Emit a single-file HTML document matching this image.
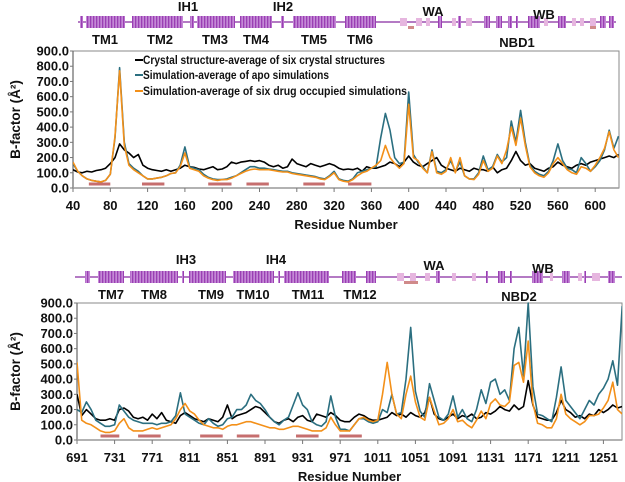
<!DOCTYPE html>
<html><head><meta charset="utf-8"><style>
html,body{margin:0;padding:0;background:#fff;}
svg{display:block;font-family:"Liberation Sans",sans-serif;font-weight:bold;}
</style></head><body>
<svg id="fig" width="625" height="482" viewBox="0 0 625 482">
<defs>
<pattern id="helixPat" width="3" height="12" patternUnits="userSpaceOnUse">
<rect width="3" height="12" fill="#c489d6"/><rect width="1.3" height="12" fill="#9a3fb3"/>
</pattern>
</defs>
</svg>
<script>
// ===== Top chart data (residues 40..625, step 5) =====
const topStart = 40;
const topStep = 5;
const topCrystal = [120,105,100,110,105,115,120,130,160,200,290,250,230,200,220,150,130,120,115,110,120,110,120,130,150,140,135,125,120,130,140,120,125,140,170,160,170,175,180,175,180,170,150,140,150,130,140,190,160,150,140,160,150,140,150,160,150,130,120,125,120,130,110,140,130,130,140,150,170,160,140,170,210,170,150,140,160,180,200,150,130,120,110,130,120,110,130,120,120,110,140,100,120,130,180,240,180,150,160,130,120,110,130,140,170,150,140,130,150,160,150,170,180,190,200,210,200,220];
const topApo = [160,110,80,60,50,45,40,50,90,330,790,300,160,130,110,80,60,60,65,70,80,95,100,150,270,140,130,120,90,70,60,55,55,60,70,80,100,120,140,140,130,130,125,120,115,110,110,100,95,90,85,80,75,65,60,80,110,60,50,45,60,100,110,120,130,140,330,490,380,200,160,170,630,220,170,140,100,250,110,100,120,180,110,170,80,60,60,100,210,120,140,220,170,200,440,300,510,300,150,110,90,80,110,180,290,180,130,120,100,200,160,110,140,180,250,380,260,340];
const topDrug = [170,110,80,60,50,45,40,50,90,340,770,280,150,120,100,80,60,60,65,70,80,95,100,140,230,130,120,110,80,65,55,50,55,55,65,80,95,110,120,125,120,120,120,115,110,105,105,95,90,85,80,75,70,60,55,75,100,55,45,40,55,80,100,110,130,150,180,280,200,160,130,160,550,200,180,130,100,240,100,90,110,200,100,200,80,60,55,90,180,110,130,210,160,250,400,280,460,280,140,100,80,70,100,160,200,160,120,100,90,140,130,110,150,200,260,370,250,200];
const topTicks = [40,80,120,160,200,240,280,320,360,400,440,480,520,560,600];
// ===== Bottom chart data (residues 691..1271, step 5) =====
const botStart = 691;
const botStep = 5;
const botCrystal = [300,160,200,170,140,130,130,140,130,200,210,190,150,140,150,130,170,140,180,130,120,110,160,180,160,140,130,120,140,130,120,150,230,140,160,170,180,200,220,210,180,150,120,110,130,140,120,150,160,130,120,170,160,150,180,160,130,120,120,150,170,160,140,130,130,140,150,180,160,170,150,180,160,150,180,280,170,140,130,150,170,140,160,150,170,140,150,180,170,190,220,200,190,230,200,220,390,230,150,140,130,130,180,260,200,180,150,160,140,170,160,200,180,200,230,210,220];
const botApo = [200,180,250,200,130,110,90,90,100,230,190,150,130,120,110,110,110,100,110,110,120,160,310,170,150,130,110,100,140,110,90,100,140,150,200,200,230,300,260,240,200,150,120,100,130,150,230,310,230,200,120,100,90,120,290,150,70,70,60,100,140,140,120,110,120,200,180,300,170,180,400,740,320,190,150,370,260,150,130,170,290,150,200,140,120,200,330,240,380,400,300,330,260,600,740,420,900,350,170,160,140,120,280,480,260,220,180,140,200,260,230,300,340,400,520,360,880];
const botDrug = [510,130,110,100,80,60,50,50,60,110,140,80,60,60,60,70,80,70,80,90,100,140,200,240,190,170,130,100,90,80,80,70,90,100,100,110,120,120,110,100,90,80,80,70,70,80,90,90,80,70,60,60,60,80,150,100,60,60,60,100,140,150,130,120,130,300,510,300,170,140,300,420,250,150,130,280,190,100,110,140,200,120,130,100,80,130,190,140,240,270,230,220,250,490,510,380,650,240,110,100,80,80,140,300,170,140,120,100,120,160,160,170,210,260,380,200,170];
const botTicks = [691,731,771,811,851,891,931,971,1011,1051,1091,1131,1171,1211,1251];
const yTicks = [0,100,200,300,400,500,600,700,800,900];
const seriesNames = ["Crystal structure-average of six crystal structures","Simulation-average of apo simulations","Simulation-average of six drug occupied simulations"];
const seriesColors = ["#000000","#2b6f80","#f39019"];
// TM spans (red bars)
const topTM = [[57,80],[114,138],[185,210],[226,250],[287,310],[335,360]];
const botTM = [[716,736],[756,780],[822,846],[861,885],[924,948],[970,994]];

const NS="http://www.w3.org/2000/svg";
const svg=document.getElementById('fig');
function mk(tag,attrs,parent){const e=document.createElementNS(NS,tag);for(const k in attrs)e.setAttribute(k,attrs[k]);(parent||svg).appendChild(e);return e;}
function txt(s,attrs,parent){const e=mk('text',attrs,parent);e.textContent=s;return e;}

function chart(cfg){
  const g=mk('g',{});
  
  
  const X=r=>cfg.x0+(r-cfg.r0)*cfg.pxPer40/40;
  const Y=v=>cfg.yb-v*(cfg.yb-cfg.yt)/900;
  // frame
  const fr=mk('rect',{x:cfg.x0,y:cfg.yt,width:cfg.xr-cfg.x0,height:cfg.yb-cfg.yt,fill:'none',stroke:'#8a8a8a','stroke-width':1},g);
  
  
  mk('line',{x1:cfg.x0,y1:cfg.yt,x2:cfg.x0,y2:cfg.yb,stroke:'#666','stroke-width':1.2},g);
  mk('line',{x1:cfg.x0,y1:cfg.yb,x2:cfg.xr,y2:cfg.yb,stroke:'#999','stroke-width':1.5},g);
  // y ticks
  yTicks.forEach(v=>{
    mk('line',{x1:cfg.x0-3,y1:Y(v),x2:cfg.x0,y2:Y(v),stroke:'#777'},g);
    const t=txt(v.toFixed(1),{x:cfg.x0-4,y:Y(v)+4.5,'text-anchor':'end','font-size':13,fill:'#111'},g);
    
    
  });
  // x ticks
  cfg.ticks.forEach(r=>{
    mk('line',{x1:X(r),y1:cfg.yb,x2:X(r),y2:cfg.yb+4,stroke:'#777'},g);
    const t=txt(String(r),{x:X(r),y:cfg.yb+22,'text-anchor':'middle','font-size':13,fill:'#111'},g);
    
    
  });
  // TM red bars
  cfg.tm.forEach(s=>{
    const b=mk('line',{x1:X(s[0]),y1:cfg.yb-4,x2:X(s[1]),y2:cfg.yb-4,stroke:'#c66e6e','stroke-width':3},g);
    
    
  });
  // series
  const cp='clip'+cfg.name;
  const cl=mk('clipPath',{id:cp},g);
  mk('rect',{x:cfg.x0,y:cfg.yt-1,width:cfg.xr-cfg.x0,height:cfg.yb-cfg.yt+1},cl);
  cfg.series.forEach((arr,si)=>{
    const pts=arr.map((v,i)=>X(cfg.r0+cfg.step*i).toFixed(1)+','+Y(v).toFixed(1)).join(' ');
    const p=mk('polyline',{points:pts,fill:'none',stroke:seriesColors[si],'stroke-width':1.6,'stroke-linejoin':'round','clip-path':'url(#'+cp+')'},g);
    
    
  });
  const yt=txt('B-factor (Å²)',{x:0,y:0,transform:'translate('+cfg.yTitleX+','+((cfg.yt+cfg.yb)/2)+') rotate(-90)','text-anchor':'middle','font-size':13.5,fill:'#111'},g);
  
  
  const xt=txt('Residue Number',{x:(cfg.x0+cfg.xr)/2,y:cfg.yb+41,'text-anchor':'middle','font-size':13,fill:'#111'},g);
  
  
}

chart({name:'top-chart',x0:73,xr:619,r0:topStart,step:topStep,pxPer40:37.3,yt:51,yb:188,ticks:topTicks,tm:topTM,series:[topCrystal,topApo,topDrug],yTitleX:20});
chart({name:'bottom-chart',x0:77,xr:622,r0:botStart,step:botStep,pxPer40:37.6,yt:303,yb:440,ticks:botTicks,tm:botTM,series:[botCrystal,botApo,botDrug],yTitleX:20});

// legend
seriesNames.forEach((n,i)=>{
  const y=[64,79,95][i];
  const lg=mk('g',{});
  
  
  mk('line',{x1:135,y1:y-4,x2:143,y2:y-4,stroke:seriesColors[i],'stroke-width':2},lg);
  const t=txt(n,{x:143,y:y,'font-size':12,fill:'#111',textLength:[242,186,264][i],lengthAdjust:'spacingAndGlyphs'},lg);
});

// topology diagrams
function topo(cfg){
  const g=mk('g',{});
  
  
  mk('line',{x1:cfg.x0,y1:cfg.y,x2:cfg.x1,y2:cfg.y,stroke:'#9b4fb0','stroke-width':1.5},g);
  cfg.helices.forEach(h=>{
    const r=mk('rect',{x:h[0],y:cfg.y-6,width:h[1]-h[0],height:12,fill:'url(#helixPat)'},g);
    
    
  });
  cfg.strands.forEach(s=>{
    const r=mk('rect',{x:s[0],y:cfg.y-4,width:s[1]-s[0],height:8,fill:'#e6b6df'},g);
    
    
  });
  cfg.reds.forEach(s=>mk('rect',{x:s[0],y:cfg.y+4,width:s[1]-s[0],height:3,fill:'#d08a8a'},g));
  cfg.labels.forEach(l=>{
    const t=txt(l[0],{x:l[1],y:l[2],'text-anchor':'middle','font-size':13,fill:'#111'},g);
    
    
  });
}
topo({name:'topology-nbd1',x0:78,x1:616,y:22,
 helices:[[80,83],[86,125],[132,183],[190,194],[197,235],[240,272],[281,284],[293,336],[345,376],[438,442],[458,461],[484,490],[496,502],[508,512],[516,518],[528,540],[558,566],[600,606],[609,614]],
 strands:[[400,407],[416,422],[426,430],[452,456],[466,472],[544,548],[572,576],[580,584],[590,596]],
 reds:[[408,414],[590,596]],
 labels:[['IH1',188,11],['IH2',283,11],['WA',433,16],['WB',544,19],['TM1',105,44],['TM2',160,44],['TM3',215,44],['TM4',256,44],['TM5',314,44],['TM6',360,44],['NBD1',517,47]]});
topo({name:'topology-nbd2',x0:75,x1:622,y:277,
 helices:[[85,90],[98,124],[130,178],[182,184],[189,226],[233,274],[278,280],[284,329],[342,356],[366,376],[436,440],[486,488],[498,505],[510,512],[532,543],[562,570],[584,586],[608,615]],
 strands:[[397,404],[410,416],[425,430],[452,456],[472,476],[550,553],[578,582],[592,600]],
 reds:[[404,418]],
 labels:[['IH3',186,264],['IH4',276,264],['WA',434,270],['WB',543,273],['TM7',111,299],['TM8',154,299],['TM9',211,299],['TM10',253,299],['TM11',308,299],['TM12',360,299],['NBD2',519,301]]});
</script>
</body></html>
